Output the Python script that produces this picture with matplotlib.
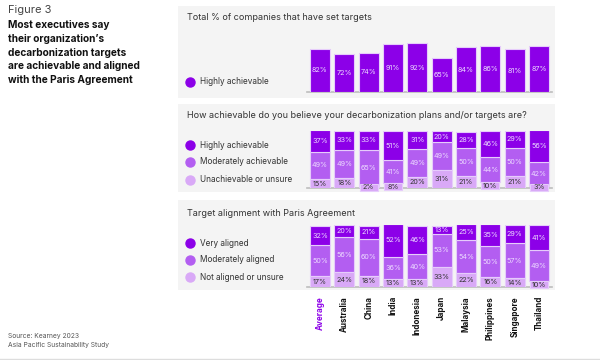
import matplotlib.pyplot as plt
from matplotlib.patches import Rectangle
from matplotlib.lines import Line2D

countries = ["Average", "Australia", "China", "India", "Indonesia", "Japan",
             "Malaysia", "Philippines", "Singapore", "Thailand"]

set_targets = [82, 72, 74, 91, 92, 65, 84, 86, 81, 87]

ach_high = [37, 33, 33, 51, 31, 20, 28, 46, 29, 56]
ach_mod = [49, 49, 65, 41, 49, 49, 50, 44, 50, 42]
ach_low = [15, 18, 2, 8, 20, 31, 21, 10, 21, 3]

par_very = [32, 20, 21, 52, 46, 13, 25, 35, 29, 41]
par_mod = [50, 56, 60, 36, 40, 53, 54, 50, 57, 49]
par_not = [17, 24, 18, 13, 13, 33, 22, 16, 14, 10]

DARK = "#8c00e8"
MID = "#b35ef1"
LIGHT = "#d9a9f7"
EDGE = "#e6ccfb"
PANEL = "#f4f4f4"
FONT = ["Inter", "DejaVu Sans"]

plt.rcParams["font.family"] = FONT

W, H = 600, 360
fig = plt.figure(figsize=(6, 3.6), dpi=100)


def fx(x):
    return x / W


def fy(y):
    return 1 - y / H


def panel(y0, y1):
    fig.patches.append(Rectangle((fx(178), fy(y1)), fx(555) - fx(178), fy(y0) - fy(y1),
                                 transform=fig.transFigure, facecolor=PANEL,
                                 edgecolor="none", zorder=-5))


def legend(items, ys):
    for (lab, col), y in zip(items, ys):
        fig.add_artist(Line2D([fx(190)], [fy(y)], marker="o", markersize=6.5,
                              color=col, transform=fig.transFigure))
        fig.text(fx(200), fy(y), lab, fontsize=5.9, color="#333333", va="center")


def bar_axes(base, top):
    ax = fig.add_axes([fx(307), fy(base), fx(552) - fx(307), fy(top) - fy(base)])
    ax.set_xlim(-0.534, 9.534)
    ax.set_ylim(0, 100)
    ax.axis("off")
    ax.add_line(Line2D([0, 1], [0, 0], transform=ax.transAxes, color="#bdbdbd",
                       lw=1.2, zorder=1, clip_on=False))
    return ax


x = list(range(len(countries)))
w = 0.82

# left text
fig.text(fx(8), fy(10), "Figure 3", fontsize=8, color="#444444", va="center")
title_lines = ["Most executives say", "their organization\u2019s",
               "decarbonization targets", "are achievable and aligned",
               "with the Paris Agreement"]
for i, line in enumerate(title_lines):
    fig.text(fx(8), fy(25 + i * 13.8), line, fontsize=7.3, fontweight="bold",
             color="#111111", va="center")
fig.text(fx(8), fy(336), "Source: Kearney 2023", fontsize=4.8, color="#555555", va="center")
fig.text(fx(8), fy(345.5), "Asia Pacific Sustainability Study", fontsize=4.8,
         color="#555555", va="center")
fig.add_artist(Line2D([0, 1], [fy(359), fy(359)], transform=fig.transFigure,
                      color="#dddddd", lw=1))

# panel 1
panel(6, 98)
fig.text(fx(187), fy(17), "Total % of companies that have set targets", fontsize=6.5,
         color="#333333", va="center")
legend([("Highly achievable", DARK)], [82])
ax1 = bar_axes(92, 39)
ax1.bar(x, set_targets, width=w, color=DARK, edgecolor=EDGE, lw=0.8, zorder=2)
for xi, v in zip(x, set_targets):
    ax1.text(xi, v / 2, f"{v}%", ha="center", va="center", fontsize=5.2,
             color="#ecd9ff", zorder=3)


def stacked(ax, high, mod, low):
    for xi, h, m, l in zip(x, high, mod, low):
        ax.bar(xi, m, bottom=l, width=w, color=MID, edgecolor=EDGE, lw=0.8, zorder=2)
        ax.bar(xi, h, bottom=l + m, width=w, color=DARK, edgecolor=EDGE, lw=0.8, zorder=2)
        ax.text(xi, l + m + h / 2, f"{h}%", ha="center", va="center", fontsize=5.2,
                color="#ecd9ff", zorder=3)
        ax.text(xi, l + m / 2, f"{m}%", ha="center", va="center", fontsize=5.2,
                color="#ecd9ff", zorder=3)
        if l <= 10:
            t = max(l, 7)
            ax.bar(xi, 12, bottom=t - 12, width=w * 0.9, color=LIGHT, edgecolor=EDGE,
                   lw=0.8, zorder=4, clip_on=False)
            ax.text(xi, t - 6, f"{l}%", ha="center", va="center", fontsize=5.2,
                    color="#333333", zorder=5, clip_on=False)
        else:
            ax.bar(xi, l, width=w, color=LIGHT, edgecolor=EDGE, lw=0.8, zorder=2)
            ax.text(xi, l / 2, f"{l}%", ha="center", va="center", fontsize=5.2,
                    color="#333333", zorder=3)


# panel 2
panel(104, 192)
fig.text(fx(187), fy(115),
         "How achievable do you believe your decarbonization plans and/or targets are?",
         fontsize=6.5, color="#333333", va="center")
legend([("Highly achievable", DARK), ("Moderately achievable", MID),
        ("Unachievable or unsure", LIGHT)], [145, 162, 180])
ax2 = bar_axes(188, 131)
stacked(ax2, ach_high, ach_mod, ach_low)

# panel 3
panel(200, 290)
fig.text(fx(187), fy(213), "Target alignment with Paris Agreement", fontsize=6.5,
         color="#333333", va="center")
legend([("Very aligned", DARK), ("Moderately aligned", MID),
        ("Not aligned or unsure", LIGHT)], [243, 260, 277])
ax3 = bar_axes(287, 225)
stacked(ax3, par_very, par_mod, par_not)

# country labels
for xi, c in zip(x, countries):
    ax3.annotate(c, (xi, 0), xytext=(0, -9), textcoords="offset pixels",
                 rotation=90, ha="center", va="top", fontsize=5.8, fontweight="bold",
                 color=DARK if c == "Average" else "#111111", annotation_clip=False)

fig.savefig("out.png", dpi=100)
